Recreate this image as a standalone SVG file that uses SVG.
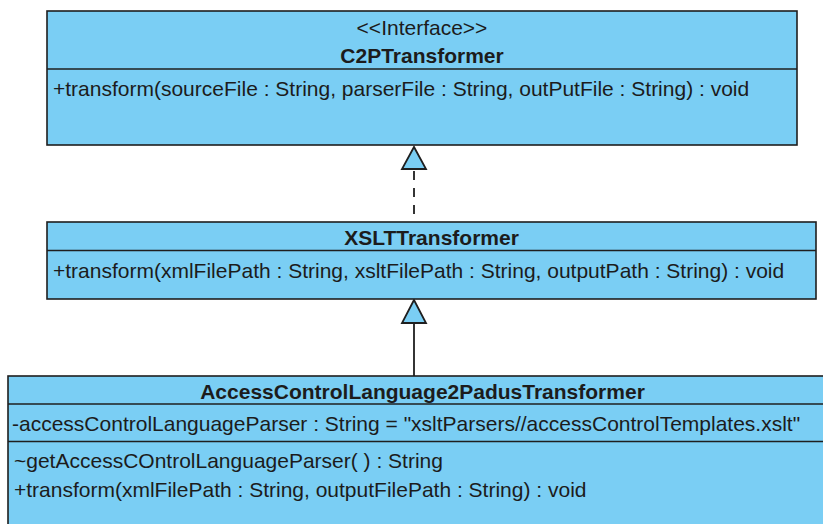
<svg xmlns="http://www.w3.org/2000/svg" width="823" height="524" viewBox="0 0 823 524">
  <style>
    .box { fill: #7acef4; stroke: #1f1f1f; stroke-width: 1.6; }
    .sep { stroke: #1f1f1f; stroke-width: 1.6; }
    text { font-family: "Liberation Sans", Arial, sans-serif; font-size: 21px; fill: #1c1c1c; }
    .title { font-weight: bold; text-anchor: middle; }
    .stereo { text-anchor: middle; }
    .edge { stroke: #1f1f1f; stroke-width: 1.8; fill: none; }
    .dashed { stroke-dasharray: 9 8; }
    .head { fill: #7acef4; stroke: #1f1f1f; stroke-width: 1.8; stroke-linejoin: miter; }
  </style>
  <rect width="823" height="524" fill="#ffffff"/>

  <!-- Connectors: realization and generalization -->
  <g id="connectors">
    <line class="edge dashed" x1="414" y1="171" x2="414" y2="214"/>
    <polygon class="head" points="414,147 402,169 426,169"/>
    <line class="edge" x1="414" y1="323" x2="414" y2="376"/>
    <polygon class="head" points="414,300 402,323 426,323"/>
  </g>

  <!-- Interface C2PTransformer -->
  <g id="C2PTransformer">
    <rect class="box" x="47" y="11" width="750" height="134"/>
    <line class="sep" x1="47" y1="69" x2="797" y2="69"/>
    <text class="stereo" x="422" y="35">&lt;&lt;Interface&gt;&gt;</text>
    <text class="title" x="422" y="63">C2PTransformer</text>
    <text x="53" y="96">+transform(sourceFile : String, parserFile : String, outPutFile : String) : void</text>
  </g>

  <!-- Class XSLTTransformer -->
  <g id="XSLTTransformer">
    <rect class="box" x="47" y="222" width="769" height="77"/>
    <line class="sep" x1="47" y1="250.5" x2="816" y2="250.5"/>
    <text class="title" x="431.5" y="245">XSLTTransformer</text>
    <text x="53" y="278">+transform(xmlFilePath : String, xsltFilePath : String, outputPath : String) : void</text>
  </g>

  <!-- Class AccessControlLanguage2PadusTransformer -->
  <g id="AccessControlLanguage2PadusTransformer">
    <rect class="box" x="8" y="376" width="829" height="160"/>
    <line class="sep" x1="8" y1="404" x2="837" y2="404"/>
    <line class="sep" x1="8" y1="441.5" x2="837" y2="441.5"/>
    <text class="title" x="422.5" y="399">AccessControlLanguage2PadusTransformer</text>
    <text x="12" y="431">-accessControlLanguageParser : String = "xsltParsers//accessControlTemplates.xslt"</text>
    <text x="14" y="468">~getAccessCOntrolLanguageParser( ) : String</text>
    <text x="14" y="497">+transform(xmlFilePath : String, outputFilePath : String) : void</text>
  </g>
</svg>
